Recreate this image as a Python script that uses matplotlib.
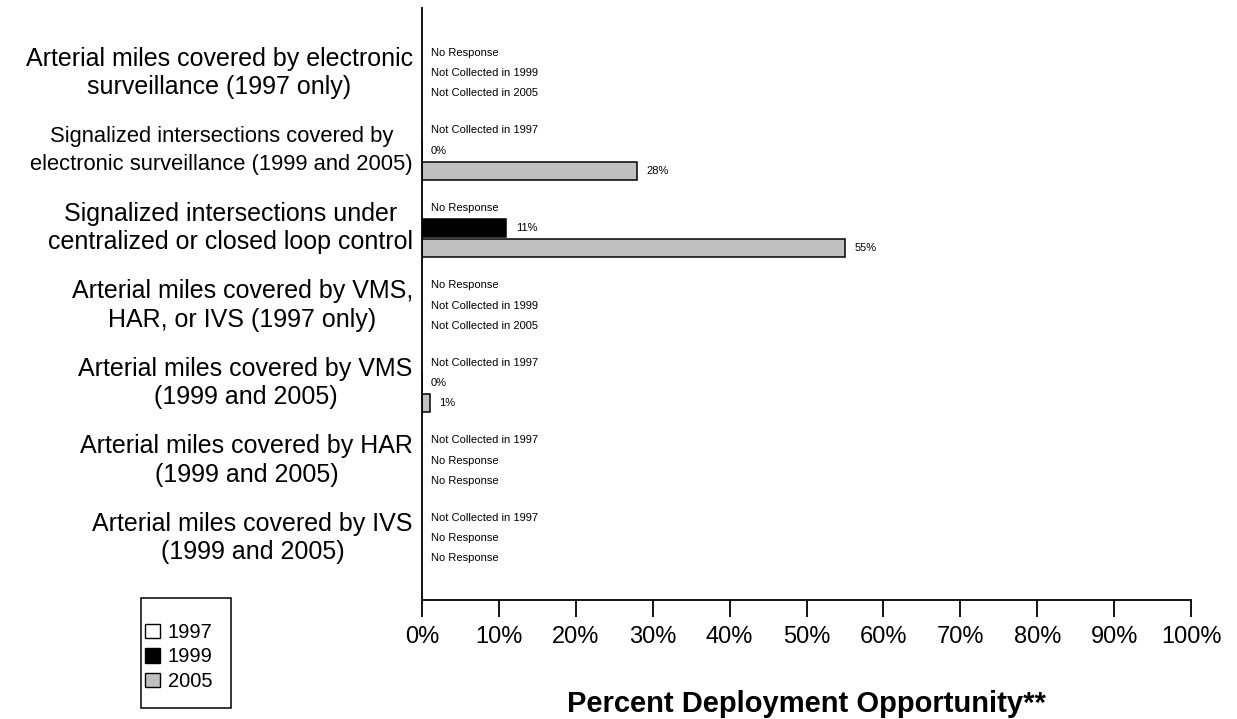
import numpy as np
import matplotlib.pyplot as plt
from matplotlib.patches import Patch, Rectangle

plt.rcParams['font.family'] = ['Liberation Sans', 'DejaVu Sans']

categories = [
    "Arterial miles covered by electronic\nsurveillance (1997 only)",
    "Signalized intersections covered by\nelectronic surveillance (1999 and 2005)",
    "Signalized intersections under\ncentralized or closed loop control",
    "Arterial miles covered by VMS,\nHAR, or IVS (1997 only)",
    "Arterial miles covered by VMS\n(1999 and 2005)",
    "Arterial miles covered by HAR\n(1999 and 2005)",
    "Arterial miles covered by IVS\n(1999 and 2005)",
]
years = ["1997", "1999", "2005"]

# percent values; None where there is no bar, with a note instead
vals_1997 = [None, None, None, None, None, None, None]
vals_1999 = [None, 0, 11, None, 0, None, None]
vals_2005 = [None, 28, 55, None, 1, None, None]

notes_1997 = ["No Response", "Not Collected in 1997", "No Response", "No Response",
              "Not Collected in 1997", "Not Collected in 1997", "Not Collected in 1997"]
notes_1999 = ["Not Collected in 1999", None, None, "Not Collected in 1999", None,
              "No Response", "No Response"]
notes_2005 = ["Not Collected in 2005", None, None, "Not Collected in 2005", None,
              "No Response", "No Response"]

colors = ["white", "black", "#C0C0C0"]

fig = plt.figure(figsize=(12.37, 7.19), dpi=100)
ax = fig.add_axes([0.341, 0.1655, 0.622, 0.8235])

y = np.arange(len(categories))
offsets = [-0.26, 0.0, 0.26]
height = 0.23

for vals, notes, off, col in zip([vals_1997, vals_1999, vals_2005],
                                 [notes_1997, notes_1999, notes_2005],
                                 offsets, colors):
    for i, v in enumerate(vals):
        if v is None:
            ax.text(1.2, y[i] + off, notes[i], fontsize=8, va='center', ha='left')
        else:
            ax.barh(y[i] + off, v, height=height, color=col, edgecolor='black',
                    linewidth=1.1)
            ax.text(v + 1.2, y[i] + off, f"{v}%", fontsize=8, va='center', ha='left')

ax.set_xlim(0, 100)
ax.set_ylim(6.8, -0.84)
ax.set_xticks(np.arange(0, 101, 10))
ax.set_xticklabels([f"{t}%" for t in range(0, 101, 10)], fontsize=17)
ax.tick_params(axis='x', direction='out', length=12, width=1.3, pad=7)
ax.set_yticks(y)
ax.set_yticklabels(categories, fontsize=18)
for lbl in ax.get_yticklabels():
    lbl.set_multialignment('center')
    lbl.set_verticalalignment('center')
    lbl.set_linespacing(1.24)
ax.get_yticklabels()[1].set_fontsize(15.8)
ax.get_yticklabels()[1].set_linespacing(1.45)
ax.tick_params(axis='y', length=0, pad=6.5)

for s in ['top', 'right']:
    ax.spines[s].set_visible(False)
ax.spines['left'].set_linewidth(1.3)
ax.spines['bottom'].set_linewidth(1.3)

ax.set_xlabel("Percent Deployment Opportunity**", fontsize=21, fontweight='bold',
              labelpad=30)

# legend box drawn separately so the frame can be taller than the entries
fig.add_artist(Rectangle((141 / 1237, 11 / 719), 90 / 1237, 110 / 719,
                         transform=fig.transFigure, facecolor='white',
                         edgecolor='black', linewidth=1.1))
handles = [Patch(facecolor=c, edgecolor='black', linewidth=1.0, label=yr)
           for c, yr in zip(colors, years)]
fig.legend(handles=handles, loc='center',
           bbox_to_anchor=(179 / 1237, 1 - 657 / 719),
           fontsize=14.5, frameon=False,
           handlelength=0.72, handleheight=0.72, handletextpad=0.4,
           borderpad=0, labelspacing=0.28, borderaxespad=0)

fig.savefig("out.png", dpi=100)
